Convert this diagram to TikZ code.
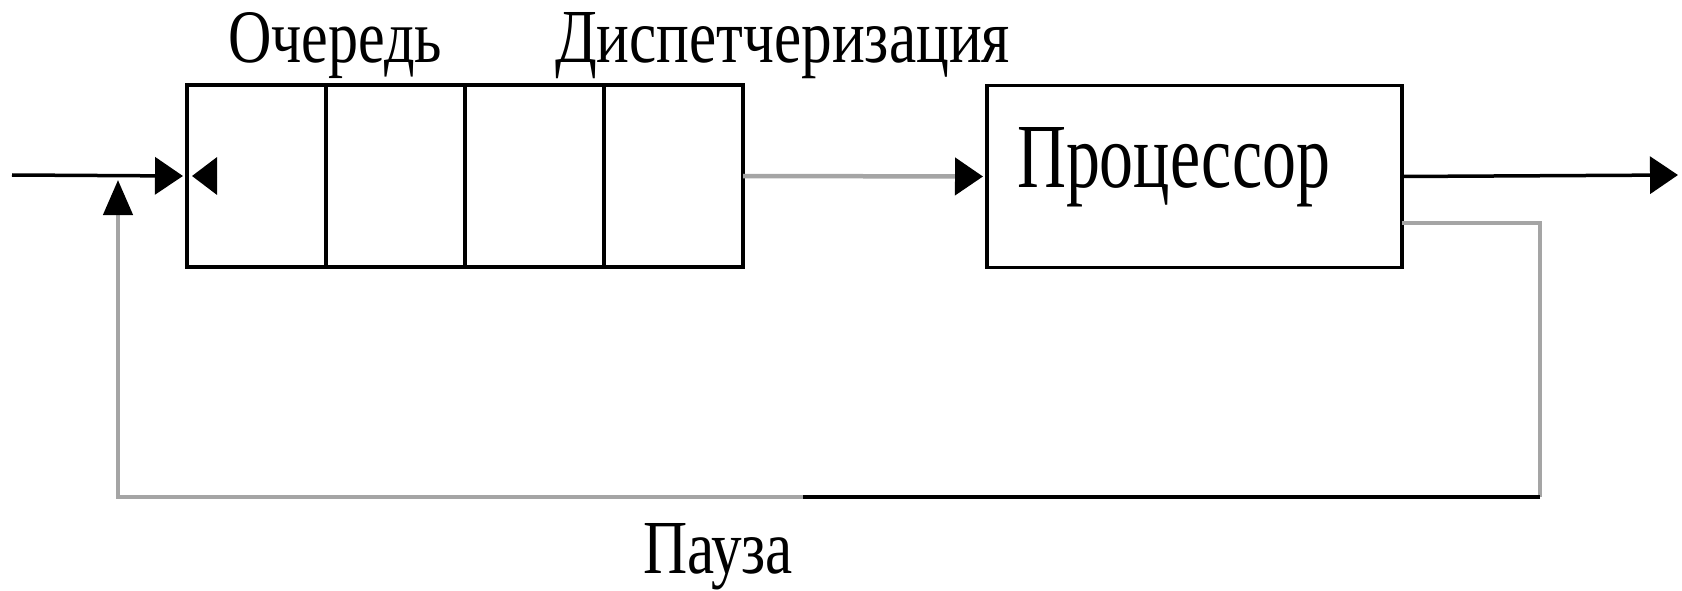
\documentclass[tikz,border=0pt]{standalone}
\usepackage{fontspec}
\setmainfont{Liberation Serif}
\usetikzlibrary{arrows.meta}
\definecolor{linkgray}{RGB}{165,165,165}
\tikzset{
  cell/.style={draw=black, line width=3.5pt, minimum width=139pt, minimum height=182pt,
               inner sep=0pt, outer sep=0pt},
  tag/.style={inner sep=0pt, outer sep=0pt, anchor=base west},
  flow/.style={line width=3.5pt, -{Triangle[length=28pt,width=37pt,color=black]}},
  backtip/.style={line width=3.5pt, -{Triangle[length=25pt,width=37pt,color=black]}},
  uptip/.style={line width=4.5pt, -{Triangle[length=35pt,width=29pt,color=black]}},
  wire/.style={line width=3.5pt},
  graywire/.style={line width=4.5pt, draw=linkgray},
}
\begin{document}
\begin{tikzpicture}[x=1pt,y=-1pt]
  \useasboundingbox (0,0) rectangle (1682,591);

  % queue of four cells
  \node[cell] (c1) at (256.5,176) {};
  \node[cell, anchor=west] (c2) at (c1.east) {};
  \node[cell, anchor=west] (c3) at (c2.east) {};
  \node[cell, anchor=west] (c4) at (c3.east) {};

  % processor
  \node[cell, minimum width=415pt] (cpu) at (1194.5,176.5) {};
  \node[tag] (cputext) at (1017,188) {\resizebox{313pt}{60pt}{Процессор}};

  % captions
  \node[tag] (qtext) at (228,63) {\resizebox{214pt}{50pt}{Очередь}};
  \node[tag] (dtext) at (555,63) {\resizebox{455pt}{50pt}{Диспетчеризация}};
  \node[tag] (ptext) at (643,573) {\resizebox{150pt}{50pt}{Пауза}};

  % incoming flow
  \coordinate (in) at (12,175);
  \draw[flow] (in) -- ([xshift=-4pt]c1.west);
  \draw[backtip] ([xshift=30pt]c1.west) -- ([xshift=5pt]c1.west);

  % dispatch to the processor
  \draw[flow, graywire] (c4.east) -- ([xshift=-4pt]cpu.west);

  % outgoing flow
  \coordinate (out) at (1678,175);
  \draw[flow] (cpu.east) -- (out);

  % pause loop back to the queue
  \coordinate (fbR) at (1540,223);
  \coordinate (fbB) at (1540,497);
  \coordinate (fbM) at (803,497);
  \coordinate (fbL) at (118,497);
  \coordinate (fbT) at (118,180);
  \draw[graywire] (cpu.east |- fbR) -- (fbR) -- (fbB);
  \draw[wire, draw=black] (fbB) -- (fbM);
  \draw[uptip, graywire] (fbM) -- (fbL) -- (fbT);
\end{tikzpicture}
\end{document}
